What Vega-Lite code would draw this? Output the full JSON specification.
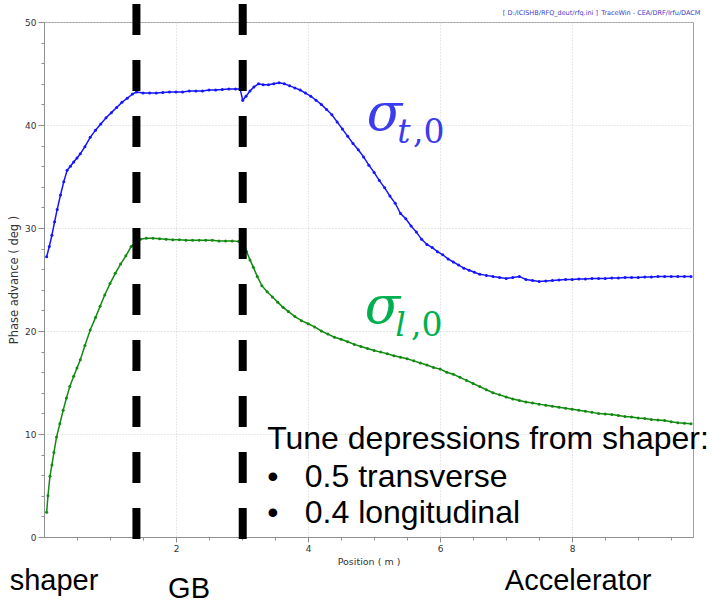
{
  "$schema": "https://vega.github.io/schema/vega-lite/v6.json",
  "width": 649,
  "height": 515,
  "autosize": {"type": "none"},
  "padding": {"left": 44, "top": 22, "right": 24, "bottom": 68},
  "background": "white",
  "config": {
    "view": {"stroke": "#a0a0a0", "strokeWidth": 1},
    "font": "DejaVu Sans",
    "axis": {"labelOverlap": false, "labelBound": false, "labelFlush": false, "tickCount": 100}
  },
  "datasets": {
    "curves": [
      {"pos":0.04,"phase":27.2,"plane":"transverse"},{"pos":0.08,"phase":28.2,"plane":"transverse"},{"pos":0.12,"phase":29.3,"plane":"transverse"},{"pos":0.16,"phase":30.6,"plane":"transverse"},{"pos":0.20,"phase":31.8,"plane":"transverse"},{"pos":0.25,"phase":33.2,"plane":"transverse"},{"pos":0.30,"phase":34.5,"plane":"transverse"},{"pos":0.35,"phase":35.6,"plane":"transverse"},{"pos":0.40,"phase":36.0,"plane":"transverse"},{"pos":0.45,"phase":36.4,"plane":"transverse"},{"pos":0.50,"phase":36.8,"plane":"transverse"},{"pos":0.55,"phase":37.2,"plane":"transverse"},{"pos":0.62,"phase":37.9,"plane":"transverse"},{"pos":0.70,"phase":38.8,"plane":"transverse"},{"pos":0.78,"phase":39.5,"plane":"transverse"},{"pos":0.86,"phase":40.1,"plane":"transverse"},{"pos":0.94,"phase":40.7,"plane":"transverse"},{"pos":1.02,"phase":41.2,"plane":"transverse"},{"pos":1.10,"phase":41.7,"plane":"transverse"},{"pos":1.18,"phase":42.2,"plane":"transverse"},{"pos":1.26,"phase":42.6,"plane":"transverse"},{"pos":1.34,"phase":43.0,"plane":"transverse"},{"pos":1.40,"phase":43.2,"plane":"transverse"},{"pos":1.50,"phase":43.1,"plane":"transverse"},{"pos":1.60,"phase":43.1,"plane":"transverse"},{"pos":1.70,"phase":43.1,"plane":"transverse"},{"pos":1.80,"phase":43.15,"plane":"transverse"},{"pos":1.90,"phase":43.2,"plane":"transverse"},{"pos":2.00,"phase":43.2,"plane":"transverse"},{"pos":2.10,"phase":43.2,"plane":"transverse"},{"pos":2.20,"phase":43.3,"plane":"transverse"},{"pos":2.30,"phase":43.3,"plane":"transverse"},{"pos":2.40,"phase":43.3,"plane":"transverse"},{"pos":2.50,"phase":43.4,"plane":"transverse"},{"pos":2.60,"phase":43.4,"plane":"transverse"},{"pos":2.70,"phase":43.45,"plane":"transverse"},{"pos":2.80,"phase":43.5,"plane":"transverse"},{"pos":2.90,"phase":43.5,"plane":"transverse"},{"pos":2.97,"phase":43.5,"plane":"transverse"},{"pos":3.01,"phase":42.4,"plane":"transverse"},{"pos":3.06,"phase":42.8,"plane":"transverse"},{"pos":3.12,"phase":43.3,"plane":"transverse"},{"pos":3.18,"phase":43.7,"plane":"transverse"},{"pos":3.25,"phase":44.0,"plane":"transverse"},{"pos":3.32,"phase":43.9,"plane":"transverse"},{"pos":3.40,"phase":43.9,"plane":"transverse"},{"pos":3.48,"phase":44.0,"plane":"transverse"},{"pos":3.56,"phase":44.1,"plane":"transverse"},{"pos":3.64,"phase":44.0,"plane":"transverse"},{"pos":3.72,"phase":43.8,"plane":"transverse"},{"pos":3.80,"phase":43.6,"plane":"transverse"},{"pos":3.88,"phase":43.4,"plane":"transverse"},{"pos":3.96,"phase":43.1,"plane":"transverse"},{"pos":4.04,"phase":42.8,"plane":"transverse"},{"pos":4.12,"phase":42.4,"plane":"transverse"},{"pos":4.20,"phase":42.0,"plane":"transverse"},{"pos":4.28,"phase":41.5,"plane":"transverse"},{"pos":4.36,"phase":41.0,"plane":"transverse"},{"pos":4.44,"phase":40.3,"plane":"transverse"},{"pos":4.52,"phase":39.6,"plane":"transverse"},{"pos":4.60,"phase":38.9,"plane":"transverse"},{"pos":4.68,"phase":38.2,"plane":"transverse"},{"pos":4.76,"phase":37.6,"plane":"transverse"},{"pos":4.84,"phase":36.9,"plane":"transverse"},{"pos":4.92,"phase":36.1,"plane":"transverse"},{"pos":5.00,"phase":35.4,"plane":"transverse"},{"pos":5.08,"phase":34.6,"plane":"transverse"},{"pos":5.16,"phase":33.9,"plane":"transverse"},{"pos":5.24,"phase":33.1,"plane":"transverse"},{"pos":5.32,"phase":32.4,"plane":"transverse"},{"pos":5.40,"phase":31.4,"plane":"transverse"},{"pos":5.48,"phase":30.9,"plane":"transverse"},{"pos":5.56,"phase":30.2,"plane":"transverse"},{"pos":5.64,"phase":29.6,"plane":"transverse"},{"pos":5.72,"phase":28.9,"plane":"transverse"},{"pos":5.80,"phase":28.4,"plane":"transverse"},{"pos":5.88,"phase":28.1,"plane":"transverse"},{"pos":5.96,"phase":27.7,"plane":"transverse"},{"pos":6.04,"phase":27.4,"plane":"transverse"},{"pos":6.12,"phase":27.0,"plane":"transverse"},{"pos":6.20,"phase":26.7,"plane":"transverse"},{"pos":6.28,"phase":26.4,"plane":"transverse"},{"pos":6.36,"phase":26.1,"plane":"transverse"},{"pos":6.44,"phase":25.9,"plane":"transverse"},{"pos":6.52,"phase":25.7,"plane":"transverse"},{"pos":6.60,"phase":25.5,"plane":"transverse"},{"pos":6.70,"phase":25.4,"plane":"transverse"},{"pos":6.80,"phase":25.3,"plane":"transverse"},{"pos":6.90,"phase":25.2,"plane":"transverse"},{"pos":7.00,"phase":25.1,"plane":"transverse"},{"pos":7.10,"phase":25.2,"plane":"transverse"},{"pos":7.20,"phase":25.3,"plane":"transverse"},{"pos":7.30,"phase":25.0,"plane":"transverse"},{"pos":7.40,"phase":24.9,"plane":"transverse"},{"pos":7.50,"phase":24.8,"plane":"transverse"},{"pos":7.60,"phase":24.85,"plane":"transverse"},{"pos":7.70,"phase":24.9,"plane":"transverse"},{"pos":7.80,"phase":24.95,"plane":"transverse"},{"pos":7.90,"phase":25.0,"plane":"transverse"},{"pos":8.00,"phase":25.0,"plane":"transverse"},{"pos":8.10,"phase":25.05,"plane":"transverse"},{"pos":8.20,"phase":25.05,"plane":"transverse"},{"pos":8.30,"phase":25.1,"plane":"transverse"},{"pos":8.40,"phase":25.1,"plane":"transverse"},{"pos":8.50,"phase":25.1,"plane":"transverse"},{"pos":8.60,"phase":25.15,"plane":"transverse"},{"pos":8.70,"phase":25.15,"plane":"transverse"},{"pos":8.80,"phase":25.2,"plane":"transverse"},{"pos":8.90,"phase":25.2,"plane":"transverse"},{"pos":9.00,"phase":25.2,"plane":"transverse"},{"pos":9.10,"phase":25.25,"plane":"transverse"},{"pos":9.20,"phase":25.25,"plane":"transverse"},{"pos":9.30,"phase":25.3,"plane":"transverse"},{"pos":9.40,"phase":25.3,"plane":"transverse"},{"pos":9.50,"phase":25.3,"plane":"transverse"},{"pos":9.60,"phase":25.3,"plane":"transverse"},{"pos":9.70,"phase":25.3,"plane":"transverse"},{"pos":9.80,"phase":25.3,"plane":"transverse"},
      {"pos":0.04,"phase":2.4,"plane":"longitudinal"},{"pos":0.06,"phase":4.0,"plane":"longitudinal"},{"pos":0.09,"phase":5.9,"plane":"longitudinal"},{"pos":0.12,"phase":7.0,"plane":"longitudinal"},{"pos":0.15,"phase":8.2,"plane":"longitudinal"},{"pos":0.19,"phase":9.7,"plane":"longitudinal"},{"pos":0.24,"phase":11.0,"plane":"longitudinal"},{"pos":0.29,"phase":12.3,"plane":"longitudinal"},{"pos":0.34,"phase":13.5,"plane":"longitudinal"},{"pos":0.39,"phase":14.6,"plane":"longitudinal"},{"pos":0.45,"phase":15.6,"plane":"longitudinal"},{"pos":0.50,"phase":16.4,"plane":"longitudinal"},{"pos":0.55,"phase":17.2,"plane":"longitudinal"},{"pos":0.62,"phase":18.6,"plane":"longitudinal"},{"pos":0.70,"phase":20.1,"plane":"longitudinal"},{"pos":0.78,"phase":21.3,"plane":"longitudinal"},{"pos":0.85,"phase":22.4,"plane":"longitudinal"},{"pos":0.92,"phase":23.5,"plane":"longitudinal"},{"pos":1.00,"phase":24.6,"plane":"longitudinal"},{"pos":1.08,"phase":25.6,"plane":"longitudinal"},{"pos":1.16,"phase":26.5,"plane":"longitudinal"},{"pos":1.24,"phase":27.3,"plane":"longitudinal"},{"pos":1.32,"phase":28.2,"plane":"longitudinal"},{"pos":1.40,"phase":28.7,"plane":"longitudinal"},{"pos":1.46,"phase":28.9,"plane":"longitudinal"},{"pos":1.55,"phase":29.0,"plane":"longitudinal"},{"pos":1.65,"phase":29.0,"plane":"longitudinal"},{"pos":1.75,"phase":28.95,"plane":"longitudinal"},{"pos":1.85,"phase":28.9,"plane":"longitudinal"},{"pos":1.95,"phase":28.85,"plane":"longitudinal"},{"pos":2.05,"phase":28.85,"plane":"longitudinal"},{"pos":2.15,"phase":28.8,"plane":"longitudinal"},{"pos":2.25,"phase":28.8,"plane":"longitudinal"},{"pos":2.35,"phase":28.8,"plane":"longitudinal"},{"pos":2.45,"phase":28.8,"plane":"longitudinal"},{"pos":2.55,"phase":28.8,"plane":"longitudinal"},{"pos":2.65,"phase":28.75,"plane":"longitudinal"},{"pos":2.75,"phase":28.75,"plane":"longitudinal"},{"pos":2.85,"phase":28.75,"plane":"longitudinal"},{"pos":2.95,"phase":28.7,"plane":"longitudinal"},{"pos":3.02,"phase":28.6,"plane":"longitudinal"},{"pos":3.07,"phase":27.7,"plane":"longitudinal"},{"pos":3.12,"phase":26.9,"plane":"longitudinal"},{"pos":3.17,"phase":26.2,"plane":"longitudinal"},{"pos":3.23,"phase":25.3,"plane":"longitudinal"},{"pos":3.30,"phase":24.4,"plane":"longitudinal"},{"pos":3.38,"phase":23.8,"plane":"longitudinal"},{"pos":3.46,"phase":23.3,"plane":"longitudinal"},{"pos":3.54,"phase":22.8,"plane":"longitudinal"},{"pos":3.62,"phase":22.3,"plane":"longitudinal"},{"pos":3.70,"phase":21.9,"plane":"longitudinal"},{"pos":3.80,"phase":21.4,"plane":"longitudinal"},{"pos":3.90,"phase":21.0,"plane":"longitudinal"},{"pos":4.00,"phase":20.7,"plane":"longitudinal"},{"pos":4.10,"phase":20.4,"plane":"longitudinal"},{"pos":4.20,"phase":20.0,"plane":"longitudinal"},{"pos":4.30,"phase":19.7,"plane":"longitudinal"},{"pos":4.40,"phase":19.4,"plane":"longitudinal"},{"pos":4.50,"phase":19.2,"plane":"longitudinal"},{"pos":4.60,"phase":18.95,"plane":"longitudinal"},{"pos":4.70,"phase":18.7,"plane":"longitudinal"},{"pos":4.80,"phase":18.5,"plane":"longitudinal"},{"pos":4.90,"phase":18.3,"plane":"longitudinal"},{"pos":5.00,"phase":18.1,"plane":"longitudinal"},{"pos":5.10,"phase":17.95,"plane":"longitudinal"},{"pos":5.20,"phase":17.8,"plane":"longitudinal"},{"pos":5.30,"phase":17.6,"plane":"longitudinal"},{"pos":5.40,"phase":17.45,"plane":"longitudinal"},{"pos":5.50,"phase":17.3,"plane":"longitudinal"},{"pos":5.60,"phase":17.1,"plane":"longitudinal"},{"pos":5.70,"phase":16.9,"plane":"longitudinal"},{"pos":5.80,"phase":16.7,"plane":"longitudinal"},{"pos":5.90,"phase":16.45,"plane":"longitudinal"},{"pos":6.00,"phase":16.3,"plane":"longitudinal"},{"pos":6.10,"phase":16.0,"plane":"longitudinal"},{"pos":6.20,"phase":15.8,"plane":"longitudinal"},{"pos":6.30,"phase":15.5,"plane":"longitudinal"},{"pos":6.40,"phase":15.2,"plane":"longitudinal"},{"pos":6.50,"phase":14.9,"plane":"longitudinal"},{"pos":6.60,"phase":14.6,"plane":"longitudinal"},{"pos":6.70,"phase":14.3,"plane":"longitudinal"},{"pos":6.80,"phase":14.0,"plane":"longitudinal"},{"pos":6.90,"phase":13.8,"plane":"longitudinal"},{"pos":7.00,"phase":13.6,"plane":"longitudinal"},{"pos":7.10,"phase":13.4,"plane":"longitudinal"},{"pos":7.20,"phase":13.25,"plane":"longitudinal"},{"pos":7.30,"phase":13.1,"plane":"longitudinal"},{"pos":7.40,"phase":13.0,"plane":"longitudinal"},{"pos":7.50,"phase":12.9,"plane":"longitudinal"},{"pos":7.60,"phase":12.8,"plane":"longitudinal"},{"pos":7.70,"phase":12.7,"plane":"longitudinal"},{"pos":7.80,"phase":12.6,"plane":"longitudinal"},{"pos":7.90,"phase":12.5,"plane":"longitudinal"},{"pos":8.00,"phase":12.4,"plane":"longitudinal"},{"pos":8.10,"phase":12.3,"plane":"longitudinal"},{"pos":8.20,"phase":12.2,"plane":"longitudinal"},{"pos":8.30,"phase":12.1,"plane":"longitudinal"},{"pos":8.40,"phase":12.0,"plane":"longitudinal"},{"pos":8.50,"phase":11.95,"plane":"longitudinal"},{"pos":8.60,"phase":11.9,"plane":"longitudinal"},{"pos":8.70,"phase":11.8,"plane":"longitudinal"},{"pos":8.80,"phase":11.7,"plane":"longitudinal"},{"pos":8.90,"phase":11.65,"plane":"longitudinal"},{"pos":9.00,"phase":11.55,"plane":"longitudinal"},{"pos":9.10,"phase":11.5,"plane":"longitudinal"},{"pos":9.20,"phase":11.4,"plane":"longitudinal"},{"pos":9.30,"phase":11.35,"plane":"longitudinal"},{"pos":9.40,"phase":11.3,"plane":"longitudinal"},{"pos":9.50,"phase":11.2,"plane":"longitudinal"},{"pos":9.60,"phase":11.1,"plane":"longitudinal"},{"pos":9.70,"phase":11.05,"plane":"longitudinal"},{"pos":9.80,"phase":11.0,"plane":"longitudinal"}
    ],
    "dividers": [{"pos": 1.40}, {"pos": 3.01}],
    "sigma": [
      {"pos": 4.89, "phase": 39.5, "key": "t-label", "sym": "σ", "sub": "t", "tail": ",0"},
      {"pos": 4.86, "phase": 20.8, "key": "l-label", "sym": "σ", "sub": "l", "tail": ",0"}
    ],
    "regions": [
      {"pos": -0.52, "phase": -5.15, "label": "shaper"},
      {"pos": 1.88, "phase": -5.9, "label": "GB"},
      {"pos": 6.98, "phase": -5.15, "label": "Accelerator"}
    ],
    "note": [
      {"pos": 3.38, "phase": 8.5, "label": "Tune depressions from shaper:"},
      {"pos": 3.38, "phase": 4.9, "label": "•"},
      {"pos": 3.95, "phase": 4.9, "label": "0.5 transverse"},
      {"pos": 3.38, "phase": 1.33, "label": "•"},
      {"pos": 3.95, "phase": 1.33, "label": "0.4 longitudinal"}
    ],
    "source": [
      {"pos": 6.95, "phase": 50.85, "label": "[ D:/ICISHB/RFQ_deut/rfq.ini ]"},
      {"pos": 8.44, "phase": 50.85, "label": "TraceWin - CEA/DRF/Irfu/DACM"}
    ]
  },
  "layer": [
    {
      "data": {"name": "curves"},
      "mark": {"type": "line", "strokeWidth": 1.5, "point": {"filled": true, "size": 9}},
      "encoding": {
        "x": {"field": "pos", "type": "quantitative", "scale": {"domain": [0, 9.83], "nice": false, "zero": false},
          "axis": {"title": "Position ( m )", "values": [0.5,1,1.5,2,2.5,3,3.5,4,4.5,5,5.5,6,6.5,7,7.5,8,8.5,9,9.5], "tickCount": 100,
            "labelExpr": "datum.value % 2 === 0 ? '' + datum.value : ''", "labelOverlap": false, "labelBound": false, "labelFlush": false,
            "tickSize": {"condition": {"test": "datum.value % 2 === 0", "value": 5}, "value": 3},
            "grid": true, "gridColor": "#d0d0d0", "gridDash": [1, 2],
            "gridOpacity": {"condition": {"test": "datum.value % 2 === 0", "value": 1}, "value": 0},
            "domainColor": "#909090", "tickColor": "#909090", "labelColor": "#333333", "labelFontSize": 9, "labelPadding": 2,
            "titleFontSize": 9.5, "titleFontWeight": "normal", "titleColor": "#333333", "titlePadding": 3}},
        "y": {"field": "phase", "type": "quantitative", "scale": {"domain": [0, 50], "nice": false, "zero": false},
          "axis": {"title": "Phase advance ( deg )", "values": [0,2,4,6,8,10,12,14,16,18,20,22,24,26,28,30,32,34,36,38,40,42,44,46,48,50], "tickCount": 100,
            "labelExpr": "datum.value % 10 === 0 ? '' + datum.value : ''", "labelOverlap": false, "labelBound": false, "labelFlush": false,
            "tickSize": {"condition": {"test": "datum.value % 10 === 0", "value": 6}, "value": 3},
            "grid": true, "gridColor": "#d0d0d0", "gridDash": [1, 2],
            "gridOpacity": {"condition": {"test": "datum.value % 10 === 0", "value": 1}, "value": 0},
            "domainColor": "#909090", "tickColor": "#909090", "labelColor": "#333333", "labelFontSize": 9, "labelPadding": 2,
            "titleFontSize": 11.5, "titleFontWeight": "normal", "titleColor": "#333333", "titlePadding": 5}},
        "color": {"field": "plane", "type": "nominal", "scale": {"domain": ["transverse", "longitudinal", "t-label", "l-label"], "range": ["#1414ff", "#118a11", "#3b3bf0", "#00b050"]}, "legend": null},
        "order": {"field": "pos", "type": "quantitative"}
      }
    },
    {
      "data": {"name": "dividers"},
      "mark": {"type": "rule", "color": "black", "strokeWidth": 8, "strokeDash": [31, 25], "strokeCap": "butt"},
      "encoding": {
        "x": {"field": "pos", "type": "quantitative"},
        "y": {"datum": -0.2, "type": "quantitative"},
        "y2": {"datum": 51.75}
      }
    },
    {
      "data": {"name": "sigma"},
      "mark": {"type": "text", "font": "DejaVu Serif", "fontStyle": "italic", "fontSize": 52, "align": "left", "baseline": "alphabetic"},
      "encoding": {
        "x": {"field": "pos", "type": "quantitative"},
        "y": {"field": "phase", "type": "quantitative"},
        "text": {"field": "sym"},
        "color": {"field": "key", "type": "nominal", "legend": null}
      }
    },
    {
      "data": {"name": "sigma"},
      "transform": [{"calculate": "datum.phase - 1.25", "as": "subphase"}, {"calculate": "datum.pos + 0.46", "as": "subpos"}],
      "mark": {"type": "text", "font": "DejaVu Serif", "fontStyle": "italic", "fontSize": 33, "align": "left", "baseline": "alphabetic"},
      "encoding": {
        "x": {"field": "subpos", "type": "quantitative"},
        "y": {"field": "subphase", "type": "quantitative"},
        "text": {"field": "sub"},
        "color": {"field": "key", "type": "nominal", "legend": null}
      }
    },
    {
      "data": {"name": "sigma"},
      "transform": [{"calculate": "datum.phase - 1.25", "as": "subphase"}, {"calculate": "datum.pos + 0.70", "as": "subpos"}],
      "mark": {"type": "text", "font": "DejaVu Serif", "fontSize": 33, "align": "left", "baseline": "alphabetic"},
      "encoding": {
        "x": {"field": "subpos", "type": "quantitative"},
        "y": {"field": "subphase", "type": "quantitative"},
        "text": {"field": "tail"},
        "color": {"field": "key", "type": "nominal", "legend": null}
      }
    },
    {
      "data": {"name": "regions"},
      "mark": {"type": "text", "font": "Liberation Sans", "fontSize": 29, "align": "left", "baseline": "alphabetic", "color": "black"},
      "encoding": {
        "x": {"field": "pos", "type": "quantitative"},
        "y": {"field": "phase", "type": "quantitative"},
        "text": {"field": "label"}
      }
    },
    {
      "data": {"name": "note"},
      "mark": {"type": "text", "font": "Liberation Sans", "fontSize": 32, "align": "left", "baseline": "alphabetic", "color": "black"},
      "encoding": {
        "x": {"field": "pos", "type": "quantitative"},
        "y": {"field": "phase", "type": "quantitative"},
        "text": {"field": "label"}
      }
    },
    {
      "data": {"name": "source"},
      "mark": {"type": "text", "font": "DejaVu Sans", "fontSize": 6.5, "align": "left", "baseline": "middle", "color": "#3c3cc8"},
      "encoding": {
        "x": {"field": "pos", "type": "quantitative"},
        "y": {"field": "phase", "type": "quantitative"},
        "text": {"field": "label"}
      }
    }
  ]
}
